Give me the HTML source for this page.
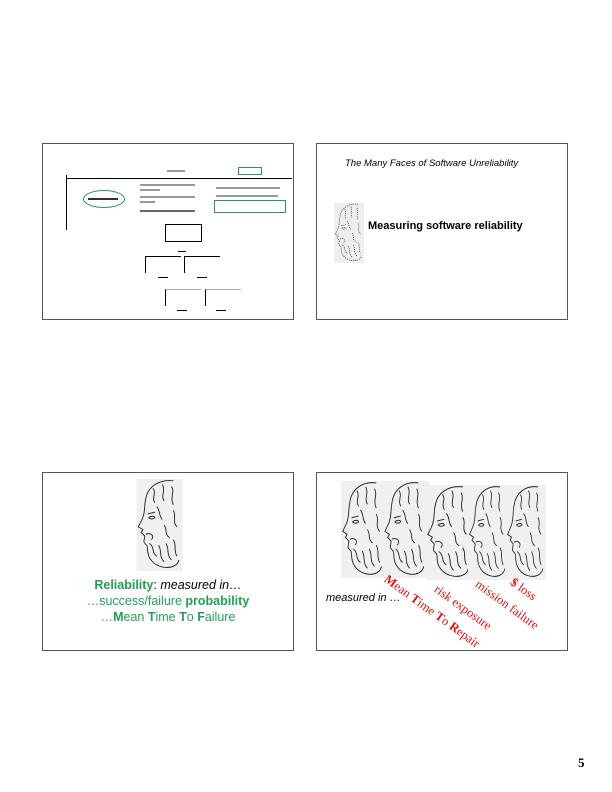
<!DOCTYPE html>
<html><head><meta charset="utf-8"><style>
body{margin:0;background:#fff;width:612px;height:792px;position:relative;overflow:hidden;font-family:"Liberation Sans",sans-serif}
.box{position:absolute;border:1.5px solid #555;box-sizing:border-box;background:#fff}
.abs{position:absolute;white-space:nowrap}
.tiny{position:absolute;height:2px;background:#999}
</style></head><body>
<svg width="0" height="0" style="position:absolute">
<defs>
<g id="head" fill="none" stroke="#222" stroke-width="1">
<path d="M40 2 C25 0 12 8 10 22 C8 30 10 36 6 44 L2 52 L7 55 L5 58 L9 62 L8 68 C9 72 12 70 12 76 C12 86 18 94 30 96 C38 97 45 94 46 88"/>
<path d="M18 10 C22 16 16 20 20 26 M28 6 C32 12 26 18 30 24 M38 8 C42 14 36 20 40 28 M22 30 C26 34 24 40 28 44 M40 34 C44 40 38 46 44 52"/>
<path d="M12 38 L20 36 M13 42 C16 40 19 40 20 42 C18 44 15 44 13 42"/>
<path d="M10 60 C16 58 20 62 16 66 M14 70 C20 74 16 80 22 84 M24 72 C28 78 24 84 30 90 M32 70 C36 76 32 82 38 88 M30 50 C34 56 30 60 36 64 M40 66 C44 72 40 78 44 84"/>
</g>
</defs>
</svg>

<!-- top-left slide -->
<div class="box" style="left:42px;top:143px;width:252px;height:177px"></div>
<div class="abs" style="left:66px;top:175px;width:1px;height:55px;background:#000"></div>
<div class="abs" style="left:66px;top:178px;width:226px;height:1px;background:#000"></div>
<div class="tiny" style="left:167px;top:170px;width:18px"></div>
<div class="abs" style="left:238px;top:167px;width:22px;height:6px;border:1px solid #2a9a55"></div>
<div class="abs" style="left:83px;top:190px;width:40px;height:16px;border:1.5px solid #2a9a55;border-radius:50%"></div>
<div class="tiny" style="left:88px;top:198px;width:30px;background:#333"></div>
<div class="tiny" style="left:140px;top:184px;width:55px"></div><div class="tiny" style="left:140px;top:189px;width:20px"></div>
<div class="tiny" style="left:140px;top:196px;width:55px"></div><div class="tiny" style="left:140px;top:201px;width:15px"></div>
<div class="tiny" style="left:140px;top:210px;width:55px;background:#666"></div>
<div class="tiny" style="left:216px;top:187px;width:64px"></div>
<div class="tiny" style="left:216px;top:195px;width:62px"></div>
<div class="abs" style="left:214px;top:200px;width:70px;height:11px;border:1.5px solid #2a9a55"></div>
<div class="abs" style="left:165px;top:224px;width:35px;height:16px;border:1px solid #000"></div>
<div class="abs" style="left:145px;top:256px;width:35px;height:16px;border-left:1px solid #000;border-top:1px solid #000"></div>
<div class="abs" style="left:184px;top:256px;width:35px;height:16px;border-left:1px solid #000;border-top:1px solid #000"></div>
<div class="abs" style="left:165px;top:289px;width:35px;height:16px;border-left:1px solid #000;border-top:1px solid #aaa"></div>
<div class="abs" style="left:205px;top:289px;width:35px;height:16px;border-left:1px solid #000;border-top:1px solid #aaa"></div>
<div class="tiny" style="left:178px;top:251px;width:8px;background:#000;height:1px"></div>
<div class="tiny" style="left:158px;top:277px;width:10px;background:#000;height:1px"></div>
<div class="tiny" style="left:197px;top:277px;width:10px;background:#000;height:1px"></div>
<div class="tiny" style="left:177px;top:310px;width:10px;background:#000;height:1px"></div>
<div class="tiny" style="left:216px;top:310px;width:10px;background:#000;height:1px"></div>

<!-- top-right slide -->
<div class="box" style="left:316px;top:143px;width:252px;height:177px"></div>
<div class="abs" style="left:345px;top:158px;font-size:9.5px;font-style:italic">The Many Faces of Software Unreliability</div>
<svg class="abs" style="left:333px;top:203px" width="32" height="60" viewBox="0 0 50 100"><rect width="50" height="100" fill="#eee"/><use href="#head" stroke-dasharray="2 1.5"/></svg>
<div class="abs" style="left:368px;top:220px;font-size:11px;font-weight:bold">Measuring software reliability</div>

<!-- bottom-left slide -->
<div class="box" style="left:42px;top:472px;width:252px;height:179px"></div>
<svg class="abs" style="left:136px;top:479px" width="47" height="92" viewBox="0 0 50 100"><rect width="50" height="100" fill="#f0f0f0"/><use href="#head"/></svg>
<div class="abs" style="left:42px;width:252px;text-align:center;top:577px;font-size:12.5px;line-height:16px;color:#22a055;white-space:normal">
<b>Reliability</b><span style="color:#000">: <i>measured in…</i></span><br>…success/failure <b>probability</b><br>…<b>M</b>ean <b>T</b>ime <b>T</b>o <b>F</b>ailure</div>

<!-- bottom-right slide -->
<div class="box" style="left:316px;top:472px;width:252px;height:179px"></div>
<svg class="abs" style="left:341px;top:481px" width="88" height="97" viewBox="0 0 100 100" preserveAspectRatio="none"><rect width="100" height="100" fill="#f0f0f0"/><use href="#head"/><use href="#head" transform="translate(48 0)"/></svg>
<svg class="abs" style="left:426px;top:485px" width="46" height="95" viewBox="0 0 50 100" preserveAspectRatio="none"><rect width="50" height="100" fill="#f0f0f0"/><use href="#head"/></svg>
<svg class="abs" style="left:468px;top:485px" width="40" height="95" viewBox="0 0 50 100" preserveAspectRatio="none"><rect width="50" height="100" fill="#f0f0f0"/><use href="#head"/></svg>
<svg class="abs" style="left:506px;top:485px" width="40" height="95" viewBox="0 0 50 100" preserveAspectRatio="none"><rect width="50" height="100" fill="#f0f0f0"/><use href="#head"/></svg>
<div class="abs" style="left:326px;top:592px;font-size:11px;font-style:italic">measured in …</div>
<div class="abs" style="left:390px;top:572px;font-family:'Liberation Serif',serif;font-size:12.5px;color:#e01010;transform:rotate(36deg);transform-origin:0 0"><b>M</b>ean <b>T</b>ime <b>T</b>o <b>R</b>epair</div>
<div class="abs" style="left:440px;top:582px;font-family:'Liberation Serif',serif;font-size:12.5px;color:#e01010;transform:rotate(36deg);transform-origin:0 0">risk exposure</div>
<div class="abs" style="left:481px;top:577px;font-family:'Liberation Serif',serif;font-size:12.5px;color:#e01010;transform:rotate(36deg);transform-origin:0 0">mission failure</div>
<div class="abs" style="left:516px;top:575px;font-family:'Liberation Serif',serif;font-size:12.5px;color:#e01010;transform:rotate(36deg);transform-origin:0 0"><b>$</b> loss</div>

<div class="abs" style="left:578px;top:755px;font-family:'Liberation Serif',serif;font-weight:bold;font-size:13px">5</div>
</body></html>
